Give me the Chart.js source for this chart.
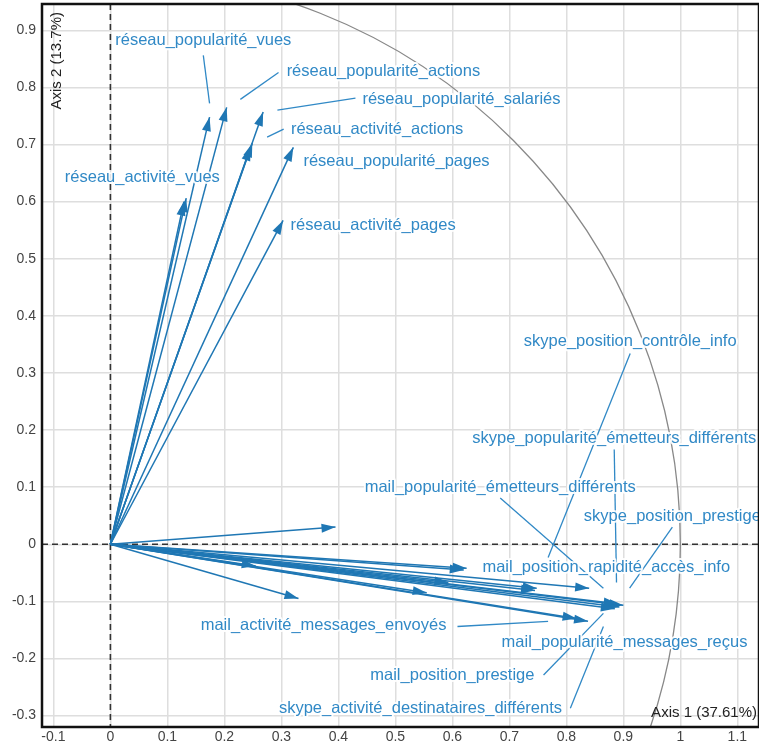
<!DOCTYPE html>
<html>
<head>
<meta charset="utf-8">
<script src="https://cdn.jsdelivr.net/npm/chart.js@4"></script>
<style>
  html, body { margin: 0; padding: 0; background: #fff; }
  #wrap { width: 759px; height: 744px; }
</style>
</head>
<body>
<div id="wrap"><canvas id="pca" width="759" height="744"></canvas></div>
<script>
// --- Data: variable coordinates on the two first axes ---
const dim1 = [
  0.174, 0.204, 0.268, 0.249, 0.246, 0.321, 0.133, 0.129, 0.303,
  0.395, 0.330, 0.255, 0.593, 0.555, 0.625, 0.620, 0.748, 0.745,
  0.840, 0.900, 0.893, 0.885, 0.890, 0.818, 0.838
];
const dim2 = [
  0.748, 0.765, 0.757, 0.702, 0.696, 0.695, 0.606, 0.600, 0.567,
  0.030, -0.095, -0.038, -0.067, -0.085, -0.042, -0.045, -0.077, -0.081,
  -0.077, -0.107, -0.110, -0.113, -0.104, -0.130, -0.135
];

const labelNames = [
  'réseau_popularité_vues',
  'réseau_popularité_actions',
  'réseau_popularité_salariés',
  'réseau_activité_actions',
  'réseau_popularité_pages',
  'réseau_activité_vues',
  'réseau_activité_pages',
  'skype_position_contrôle_info',
  'skype_popularité_émetteurs_différents',
  'mail_popularité_émetteurs_différents',
  'skype_position_prestige',
  'mail_position_rapidité_accès_info',
  'mail_activité_messages_envoyés',
  'mail_popularité_messages_reçus',
  'mail_position_prestige',
  'skype_activité_destinataires_différents'
];
// label centres, in axis units
const labelX = [0.163, 0.479, 0.616, 0.468, 0.502, 0.056, 0.461, 0.912, 0.884, 0.684, 0.986, 0.870, 0.374, 0.902, 0.600, 0.544];
const labelY = [0.883, 0.828, 0.779, 0.727, 0.671, 0.643, 0.559, 0.355, 0.186, 0.100, 0.049, -0.040, -0.142, -0.172, -0.229, -0.287];
// leader segments [x0, y0, x1, y1], in axis units (null = none)
const leaders = [
  [0.163, 0.856, 0.174, 0.772],
  [0.295, 0.826, 0.228, 0.779],
  [0.430, 0.781, 0.293, 0.760],
  [0.304, 0.727, 0.275, 0.713],
  null,
  null,
  null,
  [0.912, 0.334, 0.768, -0.023],
  [0.884, 0.166, 0.888, -0.067],
  [0.684, 0.081, 0.865, -0.077],
  [0.986, 0.030, 0.911, -0.077],
  null,
  [0.609, -0.144, 0.768, -0.135],
  null,
  [0.760, -0.229, 0.865, -0.121],
  [0.807, -0.287, 0.865, -0.144]
];

const xTicks = [-0.1, 0, 0.1, 0.2, 0.3, 0.4, 0.5, 0.6, 0.7, 0.8, 0.9, 1, 1.1];
const yTicks = [-0.3, -0.2, -0.1, 0, 0.1, 0.2, 0.3, 0.4, 0.5, 0.6, 0.7, 0.8, 0.9];
const xTitle = 'Axis 1 (37.61%)';
const yTitle = 'Axis 2 (13.7%)';

const ARROW = '#1f77b4';
const TEXT = '#3189c6';
const FONT = '"Liberation Sans", Arial, sans-serif';

// one dataset per arrow, from the origin to the variable
const datasets = dim1.map((x, i) => ({
  data: [{ x: 0, y: 0 }, { x: x, y: dim2[i] }],
  showLine: true,
  borderColor: ARROW,
  borderWidth: 1.5,
  pointRadius: 0
}));

// dashed zero lines + correlation circle, under the arrows
const backdrop = {
  id: 'backdrop',
  beforeDatasetsDraw(chart) {
    const { ctx, chartArea: a, scales: { x, y } } = chart;
    ctx.save();
    ctx.beginPath();
    ctx.rect(a.left, a.top, a.right - a.left, a.bottom - a.top);
    ctx.clip();

    const x0 = x.getPixelForValue(0), y0 = y.getPixelForValue(0);
    ctx.strokeStyle = '#888';
    ctx.lineWidth = 1.3;
    ctx.beginPath();
    ctx.ellipse(x0, y0, x.getPixelForValue(1) - x0, y0 - y.getPixelForValue(1), 0, 0, Math.PI * 2);
    ctx.stroke();

    ctx.strokeStyle = '#333';
    ctx.lineWidth = 1.6;
    ctx.setLineDash([6, 4]);
    ctx.beginPath();
    ctx.moveTo(x0, a.top); ctx.lineTo(x0, a.bottom);
    ctx.moveTo(a.left, y0); ctx.lineTo(a.right, y0);
    ctx.stroke();
    ctx.restore();
  }
};

// arrow heads, leader lines, labels, titles, frame
const overlay = {
  id: 'overlay',
  afterDatasetsDraw(chart) {
    const { ctx, chartArea: a, scales: { x, y } } = chart;
    ctx.save();

    ctx.fillStyle = ARROW;
    chart.data.datasets.forEach((ds, i) => {
      const pts = chart.getDatasetMeta(i).data;
      const p0 = pts[0], p1 = pts[1];
      const ang = Math.atan2(p1.y - p0.y, p1.x - p0.x);
      const len = 14, half = 4.5;
      ctx.beginPath();
      ctx.moveTo(p1.x, p1.y);
      ctx.lineTo(p1.x - len * Math.cos(ang) + half * Math.sin(ang), p1.y - len * Math.sin(ang) - half * Math.cos(ang));
      ctx.lineTo(p1.x - len * Math.cos(ang) - half * Math.sin(ang), p1.y - len * Math.sin(ang) + half * Math.cos(ang));
      ctx.closePath();
      ctx.fill();
    });

    ctx.strokeStyle = TEXT;
    ctx.lineWidth = 1.3;
    leaders.forEach(s => {
      if (!s) return;
      ctx.beginPath();
      ctx.moveTo(x.getPixelForValue(s[0]), y.getPixelForValue(s[1]));
      ctx.lineTo(x.getPixelForValue(s[2]), y.getPixelForValue(s[3]));
      ctx.stroke();
    });

    ctx.font = '16.5px ' + FONT;
    ctx.textAlign = 'center';
    ctx.textBaseline = 'middle';
    ctx.lineJoin = 'round';
    labelNames.forEach((name, i) => {
      const px = x.getPixelForValue(labelX[i]);
      const py = y.getPixelForValue(labelY[i]);
      ctx.strokeStyle = 'rgba(255,255,255,0.9)';
      ctx.lineWidth = 4;
      ctx.strokeText(name, px, py);
      ctx.fillStyle = TEXT;
      ctx.fillText(name, px, py);
    });

    ctx.fillStyle = '#222';
    ctx.font = '15px ' + FONT;
    ctx.textAlign = 'right';
    ctx.textBaseline = 'bottom';
    ctx.fillText(xTitle, a.right - 2, a.bottom - 7);

    ctx.translate(a.left + 15, a.top + 8);
    ctx.rotate(-Math.PI / 2);
    ctx.textAlign = 'right';
    ctx.textBaseline = 'middle';
    ctx.fillText(yTitle, 0, 0);
    ctx.restore();

    ctx.save();
    ctx.strokeStyle = '#111';
    ctx.lineWidth = 2.5;
    ctx.strokeRect(a.left, a.top, a.right - a.left, a.bottom - a.top);
    ctx.restore();
  }
};

const gridStyle = { color: '#dedede', lineWidth: 1.5, drawTicks: false };
const tickStyle = { color: '#444', font: { family: FONT, size: 14 } };

new Chart(document.getElementById('pca'), {
  type: 'scatter',
  data: { datasets },
  options: {
    responsive: false,
    animation: false,
    layout: { padding: { top: 4, right: 0, left: 0, bottom: 0 } },
    plugins: { legend: { display: false }, tooltip: { enabled: false } },
    scales: {
      x: {
        type: 'linear',
        min: -0.12,
        max: 1.138,
        grid: gridStyle,
        border: { display: false },
        ticks: { ...tickStyle, padding: 2, maxRotation: 0, callback: v => String(v) },
        afterBuildTicks: s => { s.ticks = xTicks.map(v => ({ value: v })); },
        afterFit: s => { s.height = 17; s.paddingLeft = 0; s.paddingRight = 0; }
      },
      y: {
        type: 'linear',
        min: -0.32,
        max: 0.946,
        grid: gridStyle,
        border: { display: false },
        ticks: { ...tickStyle, padding: 6, callback: v => String(v) },
        afterBuildTicks: s => { s.ticks = yTicks.map(v => ({ value: v })); },
        afterFit: s => { s.width = 42; s.paddingTop = 0; s.paddingBottom = 0; }
      }
    }
  },
  plugins: [backdrop, overlay]
});
</script>
</body>
</html>
